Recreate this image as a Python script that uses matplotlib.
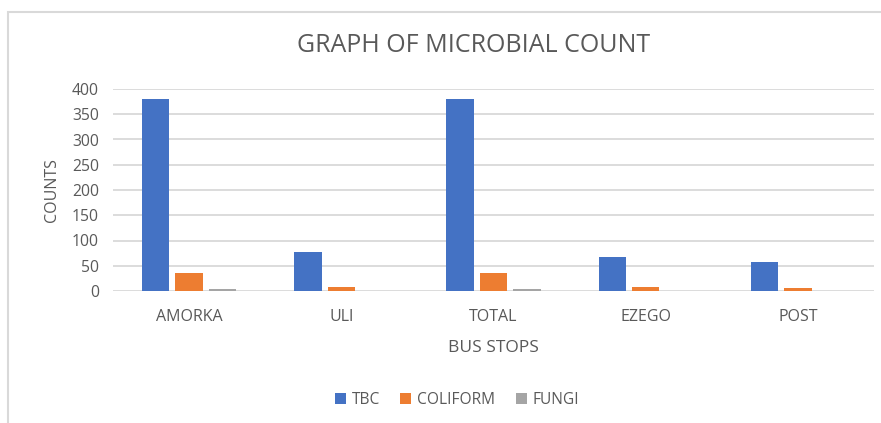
import matplotlib.pyplot as plt
from matplotlib.patches import Rectangle
import numpy as np

stops = ["AMORKA", "ULI", "TOTAL", "EZEGO", "POST"]
tbc = [380, 77, 380, 67, 57]
coliform = [35, 8, 35, 8, 6]
fungi = [4, 0.5, 4, 0.5, 0.5]

series = [("TBC", tbc, "#4472C4"),
          ("COLIFORM", coliform, "#ED7D31"),
          ("FUNGI", fungi, "#A5A5A5")]

plt.rcParams['font.family'] = ['Open Sans', 'DejaVu Sans']
text_col = "#595959"

fig = plt.figure(figsize=(8.81, 4.23), dpi=100)
ax = fig.add_axes([113 / 881, 1 - 291 / 423, 761 / 881, 202 / 423])

# chart border (extends past right/bottom edge like the screenshot)
fig.patches.append(Rectangle((8 / 881, -0.1), 1.2, 1 - 12 / 423 + 0.1,
                             transform=fig.transFigure, fill=False,
                             edgecolor="#D9D9D9", linewidth=1.5))

x = np.arange(len(stops))
width = 0.18
offset = 0.22
for i, (name, vals, col) in enumerate(series):
    ax.bar(x + (i - 1) * offset, vals, width, color=col, label=name, zorder=3)

ax.set_xlim(-0.5, len(stops) - 0.5)
ax.set_ylim(0, 400)
ax.set_yticks(range(0, 401, 50))
ax.set_xticks(x)
ax.set_xticklabels(stops)
ax.yaxis.grid(True, color="#D9D9D9", linewidth=1.3, zorder=0)
for s in ax.spines.values():
    s.set_visible(False)
ax.tick_params(axis='both', length=0, labelsize=11.3, colors=text_col)
ax.tick_params(axis='x', labelsize=11.5, pad=13)
ax.tick_params(axis='y', pad=10)

ax.set_xlabel("BUS STOPS", fontsize=12.5, color=text_col, labelpad=11)
ax.set_ylabel("COUNTS", fontsize=11.5, color=text_col, labelpad=9)

fig.text(474 / 881, 1 - 45 / 423, "GRAPH OF MICROBIAL COUNT", ha="center",
         va="center", fontsize=18, color=text_col)

fig.legend(loc="center", bbox_to_anchor=(457 / 881, 1 - 400 / 423), ncol=3,
           frameon=False, fontsize=11.2, labelcolor=text_col,
           handlelength=0.7, handleheight=0.7, handletextpad=0.4,
           columnspacing=1.3)

fig.savefig("out.png", dpi=100)
